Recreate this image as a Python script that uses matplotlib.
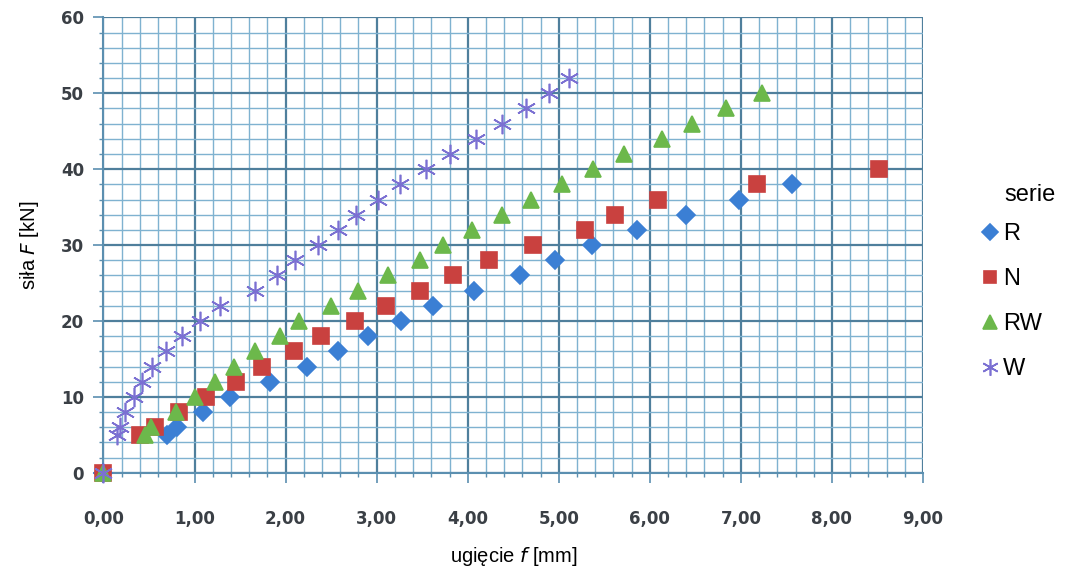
import matplotlib
matplotlib.use("Agg")
import matplotlib.pyplot as plt
from matplotlib.ticker import MultipleLocator, FuncFormatter

# sila F [kN] vs ugiecie f [mm]
r_f = [0, 0.70, 0.81, 1.09, 1.39, 1.83, 2.23, 2.57, 2.90, 3.27, 3.62, 4.07,
       4.57, 4.96, 5.36, 5.86, 6.40, 6.98, 7.56]
r_F = [0, 5, 6, 8, 10, 12, 14, 16, 18, 20, 22, 24, 26, 28, 30, 32, 34, 36, 38]

n_f = [0, 0.40, 0.57, 0.83, 1.13, 1.46, 1.74, 2.09, 2.39, 2.76, 3.10, 3.48,
       3.84, 4.23, 4.72, 5.29, 5.62, 6.09, 7.18, 8.52]
n_F = [0, 5, 6, 8, 10, 12, 14, 16, 18, 20, 22, 24, 26, 28, 30, 32, 34, 36, 38, 40]

rw_f = [0, 0.46, 0.52, 0.80, 1.01, 1.23, 1.43, 1.66, 1.94, 2.15, 2.50, 2.80,
        3.13, 3.48, 3.73, 4.05, 4.38, 4.70, 5.04, 5.38, 5.72, 6.13, 6.46,
        6.84, 7.23]
rw_F = [0, 5, 6, 8, 10, 12, 14, 16, 18, 20, 22, 24, 26, 28, 30, 32, 34, 36,
        38, 40, 42, 44, 46, 48, 50]

w_f = [0, 0.15, 0.18, 0.24, 0.33, 0.42, 0.53, 0.69, 0.86, 1.06, 1.28, 1.66,
       1.90, 2.10, 2.36, 2.57, 2.77, 3.02, 3.26, 3.54, 3.81, 4.09, 4.38,
       4.64, 4.89, 5.11]
w_F = [0, 5, 6, 8, 10, 12, 14, 16, 18, 20, 22, 24, 26, 28, 30, 32, 34, 36,
       38, 40, 42, 44, 46, 48, 50, 52]

series = [
    ('R', r_f, r_F, 'D', '#3b7fd4', 9.5),
    ('N', n_f, n_F, 's', '#c9413f', 11),
    ('RW', rw_f, rw_F, '^', '#6cb84b', 12),
    ('W', w_f, w_F, (6, 2, 0), '#7b70d2', 14),
]

fig = plt.figure(figsize=(10.77, 5.78), dpi=100)
ax = fig.add_axes([0.0961, 0.182, 0.857 - 0.0961, 0.970 - 0.182])

for name, xs, ys, mk, col, ms in series:
    ax.plot(xs, ys, linestyle='none', marker=mk, color=col, markersize=ms,
            markeredgecolor=col, markeredgewidth=1.2, label=name,
            clip_on=False, zorder=3)

ax.set_xlim(0, 9)
ax.set_ylim(0, 60)
ax.xaxis.set_major_locator(MultipleLocator(1))
ax.xaxis.set_minor_locator(MultipleLocator(0.2))
ax.yaxis.set_major_locator(MultipleLocator(10))
ax.yaxis.set_minor_locator(MultipleLocator(2))
ax.xaxis.set_major_formatter(FuncFormatter(lambda v, p: ('%.2f' % v).replace('.', ',')))
ax.yaxis.set_major_formatter(FuncFormatter(lambda v, p: '%d' % v))

ax.grid(True, which='major', color='#4f7f9c', linewidth=1.6, zorder=1)
ax.grid(True, which='minor', color='#7fb2d0', linewidth=1.0, zorder=1)
ax.set_axisbelow(True)

for s in ['top', 'right']:
    ax.spines[s].set_visible(False)
for s in ['left', 'bottom']:
    ax.spines[s].set_color('#5b8fb0')
    ax.spines[s].set_linewidth(1.5)

ax.tick_params(axis='both', which='major', length=7, width=1.2, color='#5b8fb0',
               labelsize=12, labelcolor='#3a3f45')
ax.tick_params(axis='both', which='minor', length=3, width=1.0, color='#5b8fb0')
ax.tick_params(axis='x', which='major', pad=20)
ax.tick_params(axis='y', which='major', pad=7)
for lab in ax.get_xticklabels() + ax.get_yticklabels():
    lab.set_fontweight('bold')

ax.set_xlabel('ugięcie $f$ [mm]', fontsize=14.5, family='Liberation Sans', labelpad=12)
ax.set_ylabel('siła $F$ [kN]', fontsize=14.5, family='Liberation Sans', labelpad=14)

# legend title placed by hand, over the label column as in the original
fig.text(0.933, 0.663, 'serie', fontsize=17, family='Liberation Sans',
         ha='left', va='center')
leg = fig.legend(loc='center left', bbox_to_anchor=(0.9006, 0.478), frameon=False,
                 labelspacing=0.98, handletextpad=0.1, handlelength=0.9,
                 markerscale=0.85, borderaxespad=0,
                 prop={'family': 'Liberation Sans', 'size': 17})

plt.savefig('out.png', dpi=100)
